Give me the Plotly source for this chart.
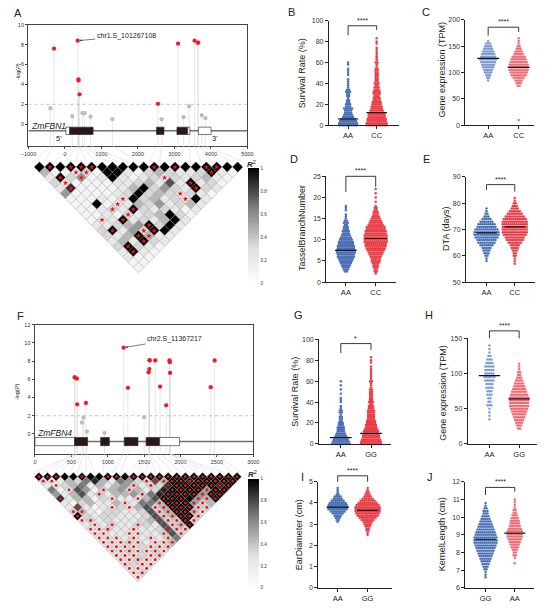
import plotly.graph_objects as go

W, H = 550, 609
FONT = "Liberation Sans, Arial, Helvetica, sans-serif"

# ======================= DATA =======================
# Panel A : ZmFBN1 association (-log P) and LD
A_snp_pos = [-400, -300, 200, 350, 370, 372, 400, 480, 540, 700, 1300, 2550, 2650,
             3100, 3250, 3400, 3550, 3640, 3650, 3750, 3850]
A_snp_logp = [1.6, 7.6, 0.8, 8.4, 4.5, 4.4, 3.0, 1.1, 1.1, 0.75, 0.5, 2.05, 0.5,
              8.1, 0.7, 1.8, 8.4, 8.2, 8.2, 0.9, 0.6]
A_lead_label = "chr1.S_101267108"
A_lead_pos, A_lead_logp = 350, 8.4
A_gene = "ZmFBN1"
A_exon_start = [24, 131, 2508, 3068, 3362, 3656]
A_exon_end = [131, 771, 2712, 3362, 3424, 4003]
A_exon_type = ["utr", "cds", "cds", "cds", "utr", "utr"]
A_xticks = [-1000, 0, 1000, 2000, 3000, 4000, 5000]
A_yticks = [0, 2, 4, 6, 8, 10]

# LD r2 (digit/9), one string per triangle row (row r = pairs (k, k+r+1))
A_ld_rows = [
    "99999999999999999999", "4112319921343223921", "293512921232323421",
    "32111122342729231", "2811112493532932", "511112393432321",
    "11121293423292", "1191224352342", "112329323212", "11213234931",
    "1229232492", "223459392", "39253992", "3249422", "242932", "39321",
    "2921", "211", "11", "1"]
A_ld_stars = [
    "01011100000101001100", "0001100000000000100", "010100000001000000",
    "01000000000001000", "0100000000000100", "000000000001000",
    "00000100000100", "0000100000000", "000101000000", "00001000000",
    "0101000000", "000001000", "01001100", "0001100", "000100", "01000",
    "0100", "000", "00", "0"]

# Panel F : ZmFBN4
F_snp_pos = [545, 548, 576, 580, 647, 665, 700, 714, 955, 1219, 1277, 1500, 1562,
             1571, 1574, 1576, 1652, 1719, 1803, 1848, 1851, 1853, 1857, 2415, 2469]
F_snp_logp = [6.2, 6.2, 6.07, 3.25, 1.26, 1.8, 3.4, 0.25, 0.1, 9.47, 5.06, 1.84, 6.76,
              7.12, 8.1, 8.06, 8.06, 5.2, 3.14, 8.06, 8.0, 7.88, 6.7, 5.13, 8.06]
F_lead_label = "chr2.S_11367217"
F_lead_pos, F_lead_logp = 1219, 9.47
F_gene = "ZmFBN4"
F_exon_start = [0, 545, 902, 1228, 1527, 1714]
F_exon_end = [545, 723, 1022, 1415, 1714, 1987]
F_exon_type = ["utr", "cds", "cds", "cds", "cds", "utr"]
F_xticks = [0, 500, 1000, 1500, 2000, 2500, 3000]
F_yticks = [0, 2, 4, 6, 8, 10, 12]

F_ld_rows = [
    "999999999999999999999999", "32243684265337499899999", "2134624245323389999989",
    "612751345342389999599", "52472324453689999599", "8244132222479999549",
    "213422422664999534", "27212232473499933", "3421332237349942",
    "932332223734993", "23232223473393", "2223223327349", "223222223733",
    "22222222373", "2222222236", "222322224", "22223223", "2232232", "222323",
    "22322", "2322", "222", "23", "2"]
F_ld_stars = [
    "111001001101111111111111", "11000000000011111111111", "0100000000101011111111",
    "001000100100001111111", "00000100001001111111", "1000001001001110111",
    "000000010001111110", "01000101001111111", "1100000000111111",
    "100000000011111", "11000000001111", "0101001000111", "111001000111",
    "11001100101", "1110101010", "111110111", "11110111", "1111111", "111011",
    "11111", "1011", "111", "11", "1"]

R2_ticks = [0, 0.2, 0.4, 0.6, 0.8, 1]

# Dot plots: value levels and number of dots at each level
B_cats = ["AA", "CC"]
B_AA_lv = [0, 2, 4, 6, 8, 10, 12, 14, 16, 18, 20, 22, 24, 26, 28, 30, 32, 34, 36, 38,
           40, 42, 44, 48, 50, 52, 54, 58, 60]
B_AA_ct = [10, 10, 9, 8, 6, 5, 4, 4, 5, 3, 3, 2, 2, 1, 2, 2, 3, 2, 1, 1,
           1, 1, 1, 1, 1, 1, 1, 1, 1]
B_CC_lv = [0, 2, 4, 6, 8, 10, 12, 14, 16, 18, 20, 22, 24, 26, 28, 30, 32, 34, 36, 38,
           40, 42, 44, 46, 48, 50, 52, 54, 56, 58, 60, 62, 64, 66, 68, 70, 72, 74, 78, 80, 83]
B_CC_ct = [11, 11, 10, 10, 9, 9, 8, 7, 6, 6, 5, 5, 4, 4, 3, 4, 4, 3, 3, 2,
           3, 2, 2, 2, 2, 2, 2, 2, 1, 1, 2, 1, 1, 1, 1, 1, 1, 1, 1, 1, 1]
B_med = [6, 12]
B_bracket = [86, 95, 91]
B_sig = "****"
B_ticks = [0, 20, 40, 60, 80, 100]

C_cats = ["AA", "CC"]
C_AA_lv = [85, 90, 95, 100, 105, 110, 115, 120, 125, 130, 135, 140, 145, 150, 155, 160]
C_AA_ct = [1, 2, 3, 4, 5, 6, 7, 8, 9, 8, 7, 6, 5, 4, 3, 1]
C_CC_lv = [10, 75, 80, 85, 90, 95, 100, 105, 110, 115, 120, 125, 130, 135, 140, 145,
           150, 155, 160, 165]
C_CC_ct = [1, 2, 3, 4, 6, 8, 9, 10, 10, 10, 9, 8, 7, 5, 4, 3, 2, 1, 1, 1]
C_med = [127, 110]
C_bracket = [170, 186, 177]
C_sig = "****"
C_ticks = [0, 50, 100, 150, 200]

D_cats = ["AA", "CC"]
D_AA_lv = [2.5, 3, 3.5, 4, 4.5, 5, 5.5, 6, 6.5, 7, 7.5, 8, 8.5, 9, 9.5, 10, 10.5, 11,
           11.5, 12, 12.5, 13, 13.5, 14, 14.5, 15, 15.5, 16, 17, 17.5, 18]
D_AA_ct = [2, 3, 4, 5, 6, 7, 8, 9, 9, 10, 10, 9, 9, 8, 8, 7, 6, 5, 4, 4, 3, 3, 2, 3, 2,
           1, 1, 1, 1, 1, 1]
D_CC_lv = [2, 2.5, 3, 3.5, 4, 4.5, 5, 5.5, 6, 6.5, 7, 7.5, 8, 8.5, 9, 9.5, 10, 10.5, 11,
           11.5, 12, 12.5, 13, 13.5, 14, 14.5, 15, 15.5, 16, 16.5, 17, 17.5, 18, 19, 20, 21, 22]
D_CC_ct = [1, 2, 2, 3, 3, 4, 5, 5, 6, 7, 8, 9, 10, 11, 11, 12, 12, 12, 12, 11, 11, 10, 10,
           8, 7, 6, 5, 4, 3, 3, 2, 2, 1, 1, 1, 1, 1]
D_med = [7.5, 10.3]
D_bracket = [21.3, 25, 22.5]
D_sig = "****"
D_ticks = [0, 5, 10, 15, 20, 25]

E_cats = ["AA", "CC"]
E_AA_lv = [58, 59, 60, 61, 62, 63, 64, 65, 66, 67, 68, 69, 70, 71, 72, 73, 74, 75, 76, 77, 78]
E_AA_ct = [1, 1, 2, 3, 4, 5, 7, 9, 10, 12, 13, 13, 12, 10, 9, 7, 5, 3, 2, 1, 1]
E_CC_lv = [57, 58, 59, 60, 61, 62, 63, 64, 65, 66, 67, 68, 69, 70, 71, 72, 73, 74, 75, 76,
           77, 78, 79, 80, 81, 82]
E_CC_ct = [1, 1, 1, 2, 2, 3, 4, 5, 7, 9, 10, 12, 13, 13, 13, 13, 13, 12, 10, 8, 6, 4, 3, 2, 1, 1]
E_med = [68.7, 71]
E_bracket = [85, 87.1, 84.4]
E_sig = "****"
E_ticks = [50, 60, 70, 80, 90]

G_cats = ["AA", "GG"]
G_AA_lv = [0, 2, 4, 6, 8, 10, 12, 14, 16, 18, 20, 22, 24, 26, 28, 30, 32, 34, 36,
           40, 42, 44, 48, 52, 56, 60]
G_AA_ct = [10, 9, 8, 7, 6, 5, 4, 4, 4, 3, 3, 2, 2, 2, 1, 2, 2, 1, 1, 1, 1, 1, 1, 1, 1, 1]
G_GG_lv = [0, 2, 4, 6, 8, 10, 12, 14, 16, 18, 20, 22, 24, 26, 28, 30, 32, 34, 36, 38,
           40, 42, 44, 46, 48, 50, 52, 54, 56, 58, 60, 62, 64, 66, 68, 70, 72, 74, 78, 80, 83]
G_GG_ct = [11, 11, 10, 9, 9, 8, 8, 7, 6, 6, 5, 5, 4, 4, 4, 4, 4, 3, 3, 2,
           3, 2, 2, 2, 2, 2, 2, 1, 1, 1, 2, 1, 1, 1, 1, 1, 1, 1, 1, 1, 1]
G_med = [6, 10]
G_bracket = [87, 96, 90]
G_sig = "*"
G_ticks = [0, 20, 40, 60, 80, 100]

H_cats = ["AA", "GG"]
H_AA_lv = [35, 40, 45, 50, 55, 60, 65, 70, 75, 80, 85, 90, 95, 100, 105, 110, 115, 120,
           125, 130, 135, 140]
H_AA_ct = [1, 1, 1, 1, 3, 2, 2, 3, 3, 4, 4, 5, 6, 5, 5, 5, 4, 3, 2, 1, 1, 1]
H_GG_lv = [22, 26, 30, 34, 38, 42, 46, 50, 54, 58, 62, 66, 70, 74, 78, 82, 86, 90, 94, 98,
           102, 106, 110, 114]
H_GG_ct = [2, 3, 4, 5, 6, 7, 8, 9, 10, 10, 10, 10, 9, 8, 7, 6, 5, 4, 3, 2, 2, 1, 1, 1]
H_med = [97, 64]
H_bracket = [150, 160.7, 150]
H_sig = "****"
H_ticks = [0, 50, 100, 150]

I_cats = ["AA", "GG"]
I_AA_lv = [3.1, 3.2, 3.3, 3.4, 3.5, 3.6, 3.7, 3.8, 3.9, 4.0, 4.1, 4.2, 4.3, 4.4, 4.5, 4.6, 4.7]
I_AA_ct = [1, 2, 3, 4, 6, 8, 10, 11, 10, 9, 7, 5, 4, 2, 1, 1, 1]
I_GG_lv = [2.5, 2.6, 2.7, 2.8, 2.9, 3.0, 3.1, 3.2, 3.3, 3.4, 3.5, 3.6, 3.7, 3.8, 3.9, 4.0,
           4.1, 4.2, 4.3, 4.4, 4.5, 4.6, 4.7]
I_GG_ct = [1, 1, 2, 2, 3, 4, 5, 7, 9, 11, 12, 13, 13, 13, 12, 10, 8, 6, 4, 3, 2, 1, 1]
I_med = [3.8, 3.65]
I_bracket = [5.0, 5.28, 5.0]
I_sig = "****"
I_ticks = [0, 1, 2, 3, 4, 5]

J_cats = ["GG", "AA"]
J_GG_lv = [6.6, 6.75, 6.9, 7.05, 7.2, 7.35, 7.5, 7.65, 7.8, 7.95, 8.1, 8.25, 8.4, 8.55, 8.7,
           8.85, 9.0, 9.15, 9.3, 9.45, 9.6, 9.75, 9.9, 10.05, 10.2, 10.35, 10.5, 10.65, 10.8]
J_GG_ct = [1, 1, 1, 2, 3, 4, 5, 6, 7, 8, 9, 10, 11, 12, 12, 12, 11, 10, 9, 8, 7, 6, 5, 4,
           3, 3, 2, 1, 1]
J_AA_lv = [7.4, 7.7, 7.85, 8.0, 8.15, 8.3, 8.45, 8.6, 8.75, 8.9, 9.05, 9.2, 9.35, 9.5, 9.65,
           9.8, 9.95, 10.1, 10.25, 10.4, 10.55, 10.7, 10.85, 11.0]
J_AA_ct = [1, 1, 2, 2, 3, 4, 5, 6, 7, 8, 8, 8, 7, 6, 5, 5, 4, 3, 2, 2, 1, 1, 1, 1]
J_med = [8.75, 9.1]
J_bracket = [11.25, 11.68, 11.44]
J_sig = "****"
J_ticks = [6, 7, 8, 9, 10, 11, 12]

# ======================= STYLE / GEOMETRY =======================
BLUE, RED = "#2F5BAA", "#E8202A"
LBLUE, LRED = "#6A8CCB", "#EE5560"
PT_RED, PT_GREY = "#EE1C25", "#BDBDBD"
AXC = "#333333"
LD_SCALE = [[0, "#ffffff"], [0.3, "#e0e0e0"], [0.65, "#7f7f7f"], [1, "#000000"]]

fig = go.Figure()
layout = dict(width=W, height=H, margin=dict(l=0, r=0, t=0, b=0),
              paper_bgcolor="white", plot_bgcolor="rgba(0,0,0,0)",
              showlegend=False, font=dict(family=FONT, color="#222"))
shapes, annots = [], []


def names(n):
    s = "" if n == 1 else str(n)
    return "xaxis" + s, "yaxis" + s, "x" + s, "y" + s


def pap(px, py):
    return px / W, 1 - py / H


def txt(px, py, text, size, **kw):
    x, y = pap(px, py)
    d = dict(x=x, y=y, xref="paper", yref="paper", text=text, showarrow=False,
             font=dict(size=size, family=FONT, color=kw.pop("color", "#222")),
             xanchor=kw.pop("xanchor", "center"), yanchor=kw.pop("yanchor", "middle"))
    d.update(kw)
    annots.append(d)


# ---------------- Manhattan + gene model ----------------
MAN = {
    "A": dict(n=1, l=21, r=245.7, t=21, b=143.4, xr=[-1000, 5000], yr=[-2.17, 10],
              xt=A_xticks, yt=A_yticks, pos=A_snp_pos, lp=A_snp_logp,
              es=A_exon_start, ee=A_exon_end, et=A_exon_type, gy=-0.67, gh=0.37,
              gene=A_gene, gpx=(41.5, 123.5), lead=(A_lead_label, A_lead_pos, A_lead_logp),
              ann_off=(48.5, -4.4), ytitle=(10, 68)),
    "F": dict(n=2, l=27.7, r=251.7, t=324.3, b=455, xr=[0, 3000], yr=[-2.17, 12],
              xt=F_xticks, yt=F_yticks, pos=F_snp_pos, lp=F_snp_logp,
              es=F_exon_start, ee=F_exon_end, et=F_exon_type, gy=-0.83, gh=0.45,
              gene=F_gene, gpx=(47.5, 434), lead=(F_lead_label, F_lead_pos, F_lead_logp),
              ann_off=(51, -8.6), ytitle=(10, 392)),
}


def man_px(g, x, y):
    px = g["l"] + (x - g["xr"][0]) / (g["xr"][1] - g["xr"][0]) * (g["r"] - g["l"])
    py = g["b"] - (y - g["yr"][0]) / (g["yr"][1] - g["yr"][0]) * (g["b"] - g["t"])
    return px, py


for key, g in MAN.items():
    xa, ya, xr, yr = names(g["n"])
    common = dict(showline=True, mirror=True, linecolor="#444", linewidth=0.8,
                  ticks="outside", ticklen=2.5, tickwidth=0.6, tickcolor="#444",
                  tickfont=dict(size=5.5, color=AXC, family=FONT), showgrid=False,
                  zeroline=False, fixedrange=True)
    layout[xa] = dict(domain=[g["l"] / W, g["r"] / W], range=g["xr"], tickvals=g["xt"],
                      anchor=yr, **common)
    layout[ya] = dict(domain=[1 - g["b"] / H, 1 - g["t"] / H], range=g["yr"], tickvals=g["yt"],
                      anchor=xr, **common)
    sx, sy = [], []
    for p, v in zip(g["pos"], g["lp"]):
        sx += [p, p, None]
        sy += [v, g["yr"][0], None]
    fig.add_trace(go.Scatter(x=sx, y=sy, mode="lines", line=dict(color="#d6d6d6", width=0.6),
                             xaxis=xr, yaxis=yr, hoverinfo="skip"))
    fig.add_trace(go.Scatter(x=g["xr"], y=[2, 2], mode="lines",
                             line=dict(color="#9a9a9a", width=0.6, dash="dot"),
                             xaxis=xr, yaxis=yr, hoverinfo="skip"))
    fig.add_trace(go.Scatter(x=g["xr"], y=[g["gy"], g["gy"]], mode="lines",
                             line=dict(color="#707070", width=1.5),
                             xaxis=xr, yaxis=yr, hoverinfo="skip"))
    cols = [PT_RED if v >= 2 else PT_GREY for v in g["lp"]]
    fig.add_trace(go.Scatter(x=g["pos"], y=g["lp"], mode="markers",
                             marker=dict(color=cols, size=4.3, line=dict(width=0)),
                             xaxis=xr, yaxis=yr, cliponaxis=False))
    for s, e, t in zip(g["es"], g["ee"], g["et"]):
        shapes.append(dict(type="rect", xref=xr, yref=yr, x0=s, x1=e,
                           y0=g["gy"] - g["gh"], y1=g["gy"] + g["gh"],
                           fillcolor="#2a1818" if t == "cds" else "white",
                           line=dict(color="#222", width=0.6), layer="above"))
    txt(g["gpx"][0], g["gpx"][1], "<i>%s</i>" % g["gene"], 8.5)
    lab, lx, ly = g["lead"]
    annots.append(dict(x=lx, y=ly, xref=xr, yref=yr, text=lab, showarrow=True,
                       arrowhead=2, arrowsize=0.7, arrowwidth=0.6, arrowcolor="#222",
                       ax=g["ann_off"][0], ay=g["ann_off"][1], standoff=2,
                       font=dict(size=7, family=FONT, color="#222")))
    txt(g["ytitle"][0], g["ytitle"][1], "-log(<i>P</i>)", 5.5, textangle=-90)

txt(52, 136.5, "5'", 7.5)
txt(212, 136.5, "3'", 7.5)

# ---------------- Dot plots ----------------
PANELS = [
    dict(n=3, l=329.3, r=401.7, c0=349, c1=378.3, t=16.7, b=122.7, yr=[0, 100], yt=B_ticks,
         cats=B_cats, groups=[(B_AA_lv, B_AA_ct, BLUE), (B_CC_lv, B_CC_ct, RED)],
         med=B_med, br=B_bracket, sig=B_sig, title="Survival Rate (%)", tp=(301.7, 70)),
    dict(n=4, l=469.3, r=540, c0=492.7, c1=524, t=16, b=122.7, yr=[0, 200], yt=C_ticks,
         cats=C_cats, groups=[(C_AA_lv, C_AA_ct, LBLUE), (C_CC_lv, C_CC_ct, LRED)],
         med=C_med, br=C_bracket, sig=C_sig, title="Gene expression (TPM)", tp=(445, 66.7)),
    dict(n=5, l=326.7, r=398, c0=346.7, c1=377.3, t=174.3, b=281.3, yr=[0, 25], yt=D_ticks,
         cats=D_cats, groups=[(D_AA_lv, D_AA_ct, BLUE), (D_CC_lv, D_CC_ct, RED)],
         med=D_med, br=D_bracket, sig=D_sig, title="TasselBranchNumber", tp=(301.7, 226.7)),
    dict(n=6, l=470, r=541, c0=491, c1=520, t=175, b=281.3, yr=[50, 90], yt=E_ticks,
         cats=E_cats, groups=[(E_AA_lv, E_AA_ct, BLUE), (E_CC_lv, E_CC_ct, RED)],
         med=E_med, br=E_bracket, sig=E_sig, title="DTA (days)", tp=(450, 228)),
    dict(n=7, l=319.3, r=393.3, c0=341.5, c1=372.5, t=339.3, b=445, yr=[0, 100], yt=G_ticks,
         cats=G_cats, groups=[(G_AA_lv, G_AA_ct, BLUE), (G_GG_lv, G_GG_ct, RED)],
         med=G_med, br=G_bracket, sig=G_sig, title="Survival Rate (%)", tp=(295, 391.7)),
    dict(n=8, l=471.7, r=543, c0=494, c1=524.5, t=338.3, b=445, yr=[0, 150], yt=H_ticks,
         cats=H_cats, groups=[(H_AA_lv, H_AA_ct, LBLUE), (H_GG_lv, H_GG_ct, LRED)],
         med=H_med, br=H_bracket, sig=H_sig, title="Gene expression (TPM)", tp=(446.7, 393)),
    dict(n=9, l=318.3, r=394, c0=338.3, c1=369, t=483.3, b=590.7, yr=[0, 5], yt=I_ticks,
         cats=I_cats, groups=[(I_AA_lv, I_AA_ct, BLUE), (I_GG_lv, I_GG_ct, RED)],
         med=I_med, br=I_bracket, sig=I_sig, title="EarDiameter (cm)", tp=(298.3, 536.7)),
    dict(n=10, l=469.3, r=540, c0=490, c1=520, t=483.3, b=590.7, yr=[6, 12], yt=J_ticks,
         cats=J_cats, groups=[(J_GG_lv, J_GG_ct, BLUE), (J_AA_lv, J_AA_ct, LRED)],
         med=J_med, br=J_bracket, sig=J_sig, title="KernelLength (cm)", tp=(445, 536.7)),
]


def dot_px(g, x, y):
    px = g["c0"] + x * (g["c1"] - g["c0"])
    py = g["b"] - (y - g["yr"][0]) / (g["yr"][1] - g["yr"][0]) * (g["b"] - g["t"])
    return px, py


bracket_x, bracket_y = [], []
for g in PANELS:
    xa, ya, xr, yr = names(g["n"])
    span = g["c1"] - g["c0"]
    common = dict(showline=True, linecolor="#222", linewidth=1, ticks="outside", ticklen=3,
                  tickwidth=0.9, tickcolor="#222", showgrid=False, zeroline=False,
                  fixedrange=True)
    layout[xa] = dict(domain=[g["l"] / W, g["r"] / W],
                      range=[(g["l"] - g["c0"]) / span, (g["r"] - g["c0"]) / span],
                      tickvals=[0, 1], ticktext=g["cats"], anchor=yr,
                      tickfont=dict(size=7.5, color="#222", family=FONT), **common)
    layout[ya] = dict(domain=[1 - g["b"] / H, 1 - g["t"] / H], range=g["yr"], tickvals=g["yt"],
                      anchor=xr, tickfont=dict(size=7, color=AXC, family=FONT), **common)
    sp = 2.05 / span
    for gi, (lv, ct, col) in enumerate(g["groups"]):
        xs, ys = [], []
        for row, (v, c) in enumerate(zip(lv, ct)):
            for i in range(c):
                xs.append(gi + (i - (c - 1) / 2) * sp)
                ys.append(v)
        fig.add_trace(go.Scatter(x=xs, y=ys, mode="markers", xaxis=xr, yaxis=yr,
                                 marker=dict(color=col, size=2.5, opacity=0.85, line=dict(width=0)),
                                 cliponaxis=False, hoverinfo="skip"))
    for gi, m in enumerate(g["med"]):
        fig.add_trace(go.Scatter(x=[gi - 0.36, gi + 0.36], y=[m, m], mode="lines",
                                 line=dict(color="#111", width=1.2), xaxis=xr, yaxis=yr,
                                 hoverinfo="skip"))
    yl, yt_, yr_ = g["br"]
    pts = [dot_px(g, 0, yl), dot_px(g, 0, yt_), dot_px(g, 1, yt_), dot_px(g, 1, yr_)]
    bracket_x += [p[0] for p in pts] + [None]
    bracket_y += [p[1] for p in pts] + [None]
    top = dot_px(g, 0.5, yt_)
    txt(top[0], top[1] - 5.5, g["sig"], 7)
    txt(g["tp"][0], g["tp"][1], g["title"], 9, textangle=-90)

# ---------------- LD heatmaps (pixel overlay) ----------------
layout["xaxis11"] = dict(domain=[0, 1], range=[0, W], visible=False, fixedrange=True, anchor="y11")
layout["yaxis11"] = dict(domain=[0, 1], range=[H, 0], visible=False, fixedrange=True, anchor="x11")

LD = [
    dict(man="A", rows=A_ld_rows, stars=A_ld_stars, x0=32.3, y0=165, d=10.7, ms=8.25,
         sym="star", ss=4.2, cb=dict(l=246, t=167, b=282, w=10.7), r2=(250, 162)),
    dict(man="F", rows=F_ld_rows, stars=F_ld_stars, x0=31.7, y0=478.3, d=8.84, ms=6.8,
         sym="circle", ss=2.9, cb=dict(l=246.7, t=481, b=590, w=10.6), r2=(251, 475)),
]

for L in LD:
    g = MAN[L["man"]]
    lx, ly = [], []
    for m, p in enumerate(g["pos"]):
        sx, sy = man_px(g, p, g["yr"][0])
        lx += [sx, L["x0"] + (m - 0.5) * L["d"], None]
        ly += [sy, L["y0"] - L["d"] / 2, None]
    fig.add_trace(go.Scatter(x=lx, y=ly, mode="lines", line=dict(color="#d2d2d2", width=0.5),
                             xaxis="x11", yaxis="y11", hoverinfo="skip"))
    cx, cy, cv, stx, sty = [], [], [], [], []
    for r, (row, srow) in enumerate(zip(L["rows"], L["stars"])):
        for k, ch in enumerate(row):
            x = L["x0"] + (r / 2 + k) * L["d"]
            y = L["y0"] + r * L["d"] / 2
            cx.append(x)
            cy.append(y)
            cv.append(int(ch) / 9)
            if srow[k] == "1":
                stx.append(x)
                sty.append(y)
    cb = L["cb"]
    fig.add_trace(go.Scatter(
        x=cx, y=cy, mode="markers", xaxis="x11", yaxis="y11", hoverinfo="skip",
        marker=dict(symbol="diamond", size=L["ms"], color=cv, cmin=0, cmax=1,
                    colorscale=LD_SCALE,
                    line=dict(color="#a0a0a0", width=0.45), showscale=True,
                    colorbar=dict(x=cb["l"] / W, xanchor="left", y=1 - (cb["t"] + cb["b"]) / 2 / H,
                                  yanchor="middle", len=cb["b"] - cb["t"], lenmode="pixels",
                                  thickness=cb["w"], thicknessmode="pixels", outlinewidth=0,
                                  tickvals=R2_ticks, ticktext=[str(t) for t in R2_ticks],
                                  tickfont=dict(size=4.5, color=AXC, family=FONT), ticks="",
                                  xpad=0, ypad=0))))
    fig.add_trace(go.Scatter(x=stx, y=sty, mode="markers", xaxis="x11", yaxis="y11",
                             hoverinfo="skip",
                             marker=dict(symbol=L["sym"], size=L["ss"], color="#EE1111",
                                         line=dict(width=0))))
    txt(L["r2"][0], L["r2"][1], "<b><i>R</i></b><sup>2</sup>", 8)

fig.add_trace(go.Scatter(x=bracket_x, y=bracket_y, mode="lines", line=dict(color="#222", width=0.9),
                         xaxis="x11", yaxis="y11", hoverinfo="skip"))

# ---------------- panel letters ----------------
for lab, px, py in [("A", 10, 9), ("B", 291, 8.5), ("C", 429, 8.5), ("D", 293, 157),
                    ("E", 429, 157), ("F", 12.7, 316), ("G", 298, 315), ("H", 432, 315),
                    ("I", 302, 479), ("J", 433, 479)]:
    txt(px, py, lab, 11)

layout["shapes"] = shapes
layout["annotations"] = annots
fig.update_layout(**layout)
fig.write_html("out.html", config={"displayModeBar": False},
               post_script="document.body.style.margin='0';document.body.style.padding='0';")
